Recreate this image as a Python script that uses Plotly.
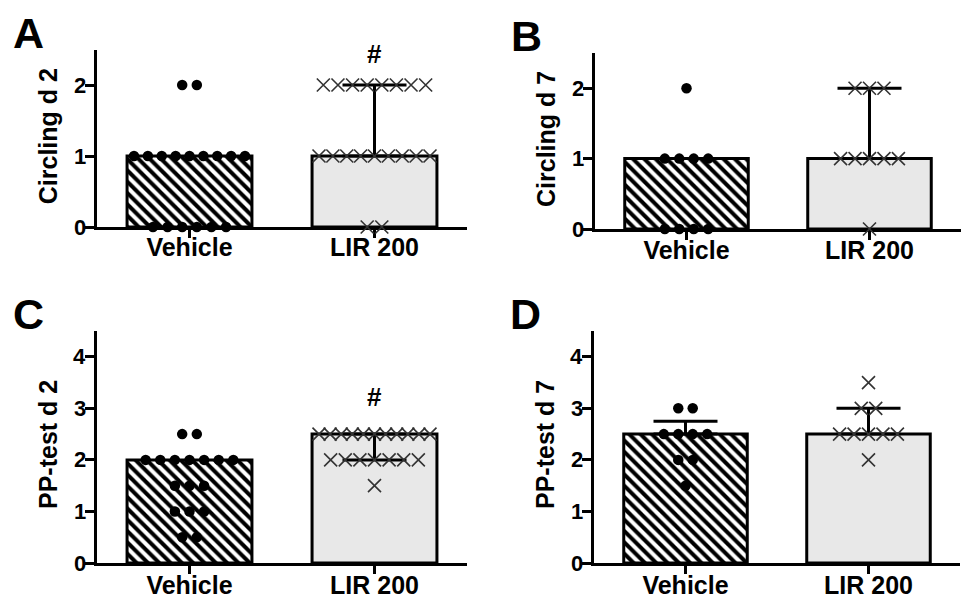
import plotly.graph_objects as go

categories = ["Vehicle", "LIR 200"]

# Individual animal scores
a_vehicle = [2, 2, 1, 1, 1, 1, 1, 1, 1, 1, 1, 0, 0, 0, 0, 0, 0]
a_lir = [2, 2, 2, 2, 2, 2, 2, 2, 1, 1, 1, 1, 1, 1, 1, 1, 1, 0, 0]
b_vehicle = [2, 1, 1, 1, 1, 0, 0, 0, 0]
b_lir = [2, 2, 2, 1, 1, 1, 1, 1, 0]
c_vehicle = [2.5, 2.5, 2, 2, 2, 2, 2, 2, 2, 1.5, 1.5, 1.5, 1, 1, 1, 0.5, 0.5]
c_lir = [2.5, 2.5, 2.5, 2.5, 2.5, 2.5, 2.5, 2.5, 2.5, 2.5, 2.5, 2, 2, 2, 2, 2, 2, 2, 1.5]
d_vehicle = [3, 3, 2.5, 2.5, 2.5, 2.5, 2, 2, 1.5]
d_lir = [3.5, 3, 3, 2.5, 2.5, 2.5, 2.5, 2.5, 2]

# Bar heights (median) and the end of the interquartile whisker that is visible
a_median = [1, 1]
a_whisker = [None, 2]
b_median = [1, 1]
b_whisker = [None, 2]
c_median = [2, 2.5]
c_whisker = [None, 2]
d_median = [2.5, 2.5]
d_whisker = [2.75, 3]

y_titles = ["Circling d 2", "Circling d 7", "PP-test d 2", "PP-test d 7"]
panel_letters = ["A", "B", "C", "D"]
y_max = [2.5, 2.5, 4.5, 4.5]
y_ticks = [[0, 1, 2], [0, 1, 2], [0, 1, 2, 3, 4], [0, 1, 2, 3, 4]]
significance = ["#", "", "#", ""]
sig_y = [2.44, None, 3.22, None]

panels = [
    (a_vehicle, a_lir, a_median, a_whisker),
    (b_vehicle, b_lir, b_median, b_whisker),
    (c_vehicle, c_lir, c_median, c_whisker),
    (d_vehicle, d_lir, d_median, d_whisker),
]

W, H = 967, 598
# pixel boxes of plot areas: (left, right, top, bottom)
boxes = [(97, 467, 49.5, 227), (595, 961, 53, 229), (97, 467, 331, 563), (594, 960, 331, 563)]
x_label_standoff = [-12, -11, -10, -10]

STEP = 0.079
SPAN = 0.6
FONT = "Liberation Sans, Arial, sans-serif"


def spread(vals):
    xs = [0.0] * len(vals)
    levels = []
    for v in vals:
        if v not in levels:
            levels.append(v)
    for lv in levels:
        idx = [i for i, v in enumerate(vals) if v == lv]
        n = len(idx)
        step = STEP if n < 2 else min(STEP, SPAN / (n - 1))
        for k, i in enumerate(idx):
            xs[i] = (k - (n - 1) / 2) * step
    return xs


fig = go.Figure()
annotations = []
layout = {}

for p, (veh, lir, med, whisk) in enumerate(panels):
    ax = "" if p == 0 else str(p + 1)
    xref, yref = "x" + ax, "y" + ax
    # bars
    fig.add_trace(go.Bar(
        x=[0], y=[med[0]], width=0.675, xaxis=xref, yaxis=yref,
        marker=dict(color="white", line=dict(color="black", width=3),
                    pattern=dict(shape="\\", fgcolor="black", bgcolor="white",
                                 fgopacity=1, size=8, solidity=0.5)),
        showlegend=False, hoverinfo="skip"))
    fig.add_trace(go.Bar(
        x=[1], y=[med[1]], width=0.675, xaxis=xref, yaxis=yref,
        marker=dict(color="#e8e8e8", line=dict(color="black", width=3)),
        showlegend=False, hoverinfo="skip"))
    # whiskers
    for i in range(2):
        if whisk[i] is None:
            continue
        up = max(whisk[i] - med[i], 0)
        down = max(med[i] - whisk[i], 0)
        fig.add_trace(go.Scatter(
            x=[i], y=[med[i]], mode="markers", xaxis=xref, yaxis=yref,
            marker=dict(color="rgba(0,0,0,0)", size=1),
            error_y=dict(type="data", symmetric=False, array=[up], arrayminus=[down],
                         color="black", thickness=3, width=32),
            showlegend=False, hoverinfo="skip"))
    # points
    fig.add_trace(go.Scatter(
        x=[0 + o for o in spread(veh)], y=veh, mode="markers", xaxis=xref, yaxis=yref,
        marker=dict(symbol="circle", size=10.5, color="black"),
        cliponaxis=False, showlegend=False))
    fig.add_trace(go.Scatter(
        x=[1 + o for o in spread(lir)], y=lir, mode="markers", xaxis=xref, yaxis=yref,
        marker=dict(symbol="x-thin", size=13, color="#333333",
                    line=dict(color="#333333", width=1.6)),
        cliponaxis=False, showlegend=False))

    l, r, t, b = boxes[p]
    xdom = [l / W, r / W]
    ydom = [1 - b / H, 1 - t / H]
    layout["xaxis" + ax] = dict(
        domain=xdom, anchor=yref, range=[-0.5, 1.5], tickvals=[0, 1], ticktext=categories,
        showline=True, linewidth=3, linecolor="black", ticks="outside", ticklen=8,
        tickwidth=3, tickcolor="black", showgrid=False, zeroline=False, automargin=False,
        ticklabelstandoff=x_label_standoff[p],
        tickfont=dict(family=FONT, size=25, color="black", weight="bold"),
        layer="below traces", fixedrange=True)
    layout["yaxis" + ax] = dict(
        domain=ydom, anchor=xref, range=[0, y_max[p]], tickvals=y_ticks[p],
        showticklabels=False,
        showline=True, linewidth=3, linecolor="black", ticks="outside", ticklen=9,
        tickwidth=3, tickcolor="black", showgrid=False, zeroline=False, automargin=False,
        layer="below traces", fixedrange=True)

    # y tick labels
    for tv in y_ticks[p]:
        annotations.append(dict(
            text=str(tv), xref="paper", yref=yref, x=(l - 9.5) / W, y=tv,
            showarrow=False, xanchor="right", yanchor="middle",
            font=dict(family=FONT, size=22, color="black", weight="bold")))
    # y title
    annotations.append(dict(
        text=y_titles[p], textangle=-90, xref="paper", yref="paper",
        x=(l - 49) / W, y=1 - ((t + b) / 2 - 2) / H, showarrow=False,
        xanchor="center", yanchor="middle",
        font=dict(family=FONT, size=25, color="black", weight="bold")))
    # panel letter
    annotations.append(dict(
        text=panel_letters[p], xref="paper", yref="paper",
        x=(l - 86) / W, y=1 - (t - 17) / H, showarrow=False,
        xanchor="left", yanchor="middle",
        font=dict(family=FONT, size=43, color="black", weight="bold")))
    if significance[p]:
        annotations.append(dict(
            text=significance[p], xref=xref, yref=yref, x=1, y=sig_y[p],
            showarrow=False, xanchor="center", yanchor="middle",
            font=dict(family=FONT, size=26, color="black", weight="bold")))

fig.update_layout(
    width=W, height=H, autosize=False, margin=dict(l=0, r=0, t=0, b=0),
    paper_bgcolor="white", plot_bgcolor="white", barmode="overlay",
    annotations=annotations, **layout)

fig.write_html(
    "out.html",
    config={"displayModeBar": False, "responsive": False},
    post_script="document.body.style.margin='0';document.body.style.overflow='hidden';")
